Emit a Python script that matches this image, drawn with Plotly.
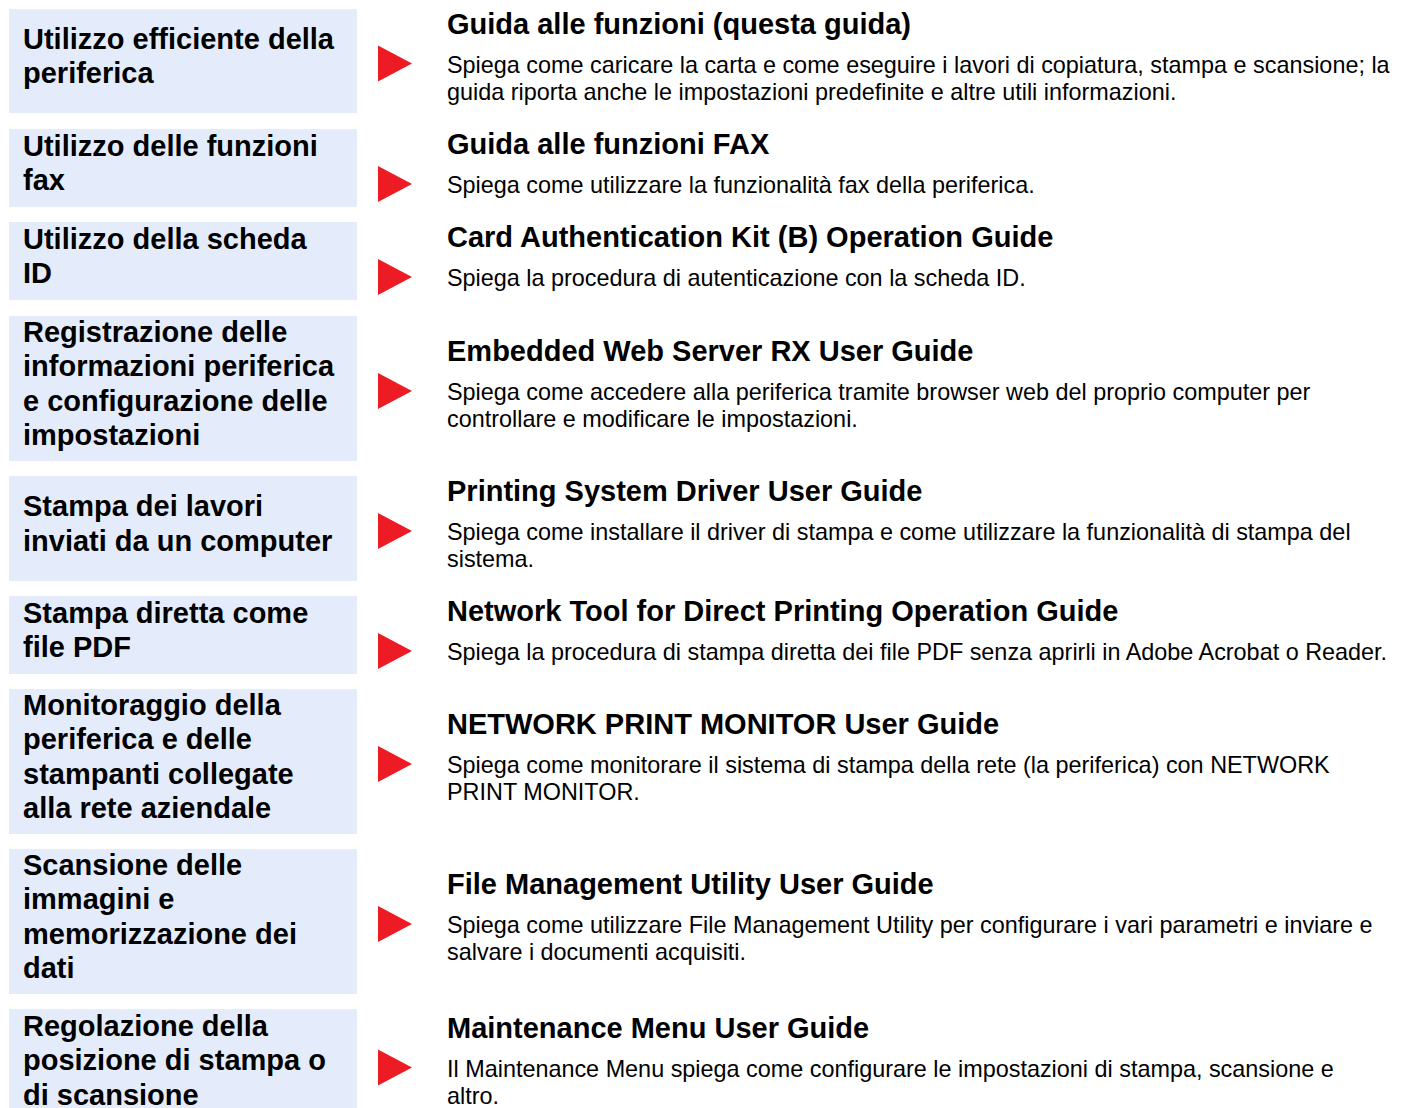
import plotly.graph_objects as go

# ---------------- data ----------------
labels = [
    "Utilizzo efficiente della<br>periferica",
    "Utilizzo delle funzioni<br>fax",
    "Utilizzo della scheda<br>ID",
    "Registrazione delle<br>informazioni periferica<br>e configurazione delle<br>impostazioni",
    "Stampa dei lavori<br>inviati da un computer",
    "Stampa diretta come<br>file PDF",
    "Monitoraggio della<br>periferica e delle<br>stampanti collegate<br>alla rete aziendale",
    "Scansione delle<br>immagini e<br>memorizzazione dei<br>dati",
    "Regolazione della<br>posizione di stampa o<br>di scansione",
]
titles = [
    "Guida alle funzioni (questa guida)",
    "Guida alle funzioni FAX",
    "Card Authentication Kit (B) Operation Guide",
    "Embedded Web Server RX User Guide",
    "Printing System Driver User Guide",
    "Network Tool for Direct Printing Operation Guide",
    "NETWORK PRINT MONITOR User Guide",
    "File Management Utility User Guide",
    "Maintenance Menu User Guide",
]
descriptions = [
    "Spiega come caricare la carta e come eseguire i lavori di copiatura, stampa e scansione; la<br>guida riporta anche le impostazioni predefinite e altre utili informazioni.",
    "Spiega come utilizzare la funzionalità fax della periferica.",
    "Spiega la procedura di autenticazione con la scheda ID.",
    "Spiega come accedere alla periferica tramite browser web del proprio computer per<br>controllare e modificare le impostazioni.",
    "Spiega come installare il driver di stampa e come utilizzare la funzionalità di stampa del<br>sistema.",
    "Spiega la procedura di stampa diretta dei file PDF senza aprirli in Adobe Acrobat o Reader.",
    "Spiega come monitorare il sistema di stampa della rete (la periferica) con NETWORK<br>PRINT MONITOR.",
    "Spiega come utilizzare File Management Utility per configurare i vari parametri e inviare e<br>salvare i documenti acquisiti.",
    "Il Maintenance Menu spiega come configurare le impostazioni di stampa, scansione e<br>altro.",
]

# ---------------- layout geometry (pixels, window coordinates) ----------------
W, H = 1404, 1108
PAGE_OFFSET = 8  # default body margin of the html page
box_top = [9, 129, 222, 316, 476, 596, 689, 849, 1009]
box_bottom = [113, 207, 300, 461, 581, 674, 834, 994, 1121]
BOX_X0, BOX_X1 = 9, 357
LABEL_X = 21
TRI_X0, TRI_X1, TRI_H = 378, 412, 36
TEXT_X = 445
LABEL_LS = 34.5
DESC_LS = 27
TITLE_GAP = 41

BOX_COLOR = "#E4ECFB"
RED = "#ED1C24"
FONT = "Liberation Sans, Arial, sans-serif"

fig = go.Figure()
shapes = []
annotations = []

for i in range(len(labels)):
    t, b = box_top[i], box_bottom[i]
    c = (t + b) / 2
    shapes.append(dict(type="rect", xref="x", yref="y", x0=BOX_X0, x1=BOX_X1,
                       y0=t, y1=min(b, H + 20), fillcolor=BOX_COLOR, line=dict(width=0), layer="below"))
    lines = labels[i].split("<br>")
    n = len(lines)
    for k, ln in enumerate(lines):
        y = c - 5 + (k - (n - 1) / 2) * LABEL_LS
        annotations.append(dict(x=LABEL_X, y=y, xref="x", yref="y", text=f"<b>{ln}</b>",
                                showarrow=False, xanchor="left", yanchor="middle",
                                font=dict(family=FONT, size=29, color="#000000")))
    dlines = descriptions[i].split("<br>")
    span = TITLE_GAP + (len(dlines) - 1) * DESC_LS
    T = c - 3.5 - span / 2
    annotations.append(dict(x=TEXT_X, y=T, xref="x", yref="y", text=f"<b>{titles[i]}</b>",
                            showarrow=False, xanchor="left", yanchor="middle",
                            font=dict(family=FONT, size=29, color="#000000")))
    for k, ln in enumerate(dlines):
        annotations.append(dict(x=TEXT_X, y=T + TITLE_GAP + k * DESC_LS, xref="x", yref="y", text=ln,
                                showarrow=False, xanchor="left", yanchor="middle",
                                font=dict(family=FONT, size=23.4, color="#000000")))
    ty = T + TITLE_GAP - 1
    shapes.append(dict(type="path", xref="x", yref="y",
                       path=f"M {TRI_X0},{ty - TRI_H/2} L {TRI_X1},{ty} L {TRI_X0},{ty + TRI_H/2} Z",
                       fillcolor=RED, line=dict(width=0)))

fig.update_layout(
    width=W, height=H, margin=dict(l=0, r=0, t=0, b=0),
    paper_bgcolor="white", plot_bgcolor="white",
    xaxis=dict(range=[PAGE_OFFSET, W + PAGE_OFFSET], visible=False, fixedrange=True),
    yaxis=dict(range=[H + PAGE_OFFSET, PAGE_OFFSET], visible=False, fixedrange=True),
    shapes=shapes, annotations=annotations, showlegend=False,
)
fig.write_html("out.html")
